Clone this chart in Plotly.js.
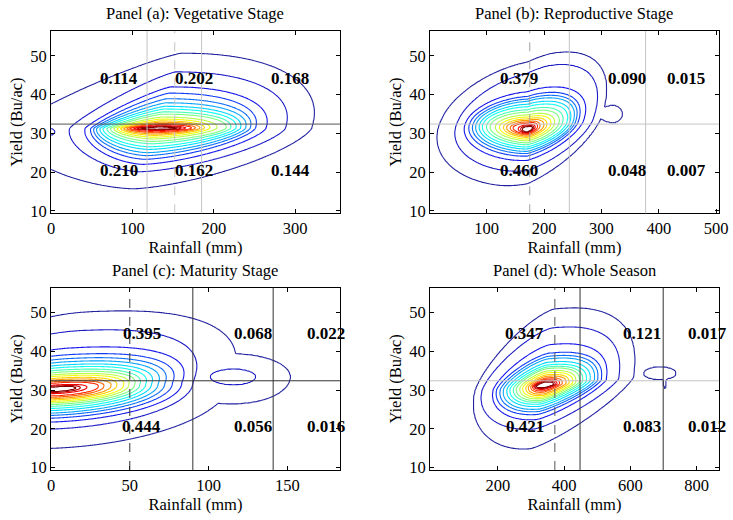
<!DOCTYPE html>
<html><head><meta charset="utf-8">
<script src="https://cdn.plot.ly/plotly-3.0.1.min.js"></script>
<style>body{margin:0;background:#fff}#chart{width:733px;height:520px}</style>
</head><body><div id="chart"></div>
<script>
// ---------- data ----------
// density levels whose contour extents were read (fraction of the peak)
const anchorLevels = [0.05,0.10,0.15,0.20,0.30,0.40,0.50,0.60,0.70,0.80,0.95];

// Panel (a) Vegetative: peak and extents of each level (left/right in mm, up/down in Bu/ac)
const aPeak  = [131, 31.3];
const aLeft  = [180,108,89,82,75,67,58,50,42,35,25];
const aRight = [189,157,133,120,108,96,84,64,52,42,26];
const aUp    = [19.4,14.6,10.7,9.1,6.6,5.0,3.7,2.4,1.6,1.0,0.4];
const aDown  = [15.6,11.2,9.3,8.0,6.3,4.8,3.4,2.3,1.5,0.9,0.3];
const aTilt  = [1.5, 1.9, 0, 0];            // x-shift per Bu up / down, y-shift per mm left / right
const aRound = [1.2, 2.2, 1.6, 1.5];         // roundness of upper-left, upper-right, lower-left, lower-right
const aSideBump = {peak:[0,30.4], levels:[0.10], left:[4], right:[5], up:[0.9], down:[0.9], top:0.105};

// Panel (b) Reproductive
const bPeak  = [171, 31.1];
const bLeft  = [148,120,106,99,88,77,64,48,36,25,9];
const bRight = [127,114,97,88,79,68,54,40,28,17,9];
const bUp    = [18.7,15.7,10.1,8.8,7.5,6.0,4.5,3.2,2.3,1.6,0.7];
const bDown  = [15.5,11.5,8.5,7.3,6.0,4.8,3.7,2.7,1.9,1.3,0.8];
const bTilt  = [2.5, 3.5, -0.02, 0.02];
const bRound = [1.7, 2.2, 2.0, 1.9];
const bSideBump = {peak:[320,35.0], levels:[0.05], left:[25], right:[17], up:[2.3], down:[2.3], top:0.056};

// Panel (c) Maturity
const cPeak  = [4, 30.3];
const cLeft  = [80,70,62,58,52,46,40,35,28,22,14];
const cRight = [110,86,79,73,64,56,49,42,34,26,12];
const cUp    = [19.5,14.8,10.4,8.7,6.9,5.5,4.3,3.3,2.4,1.6,0.6];
const cDown  = [15.3,10.3,8.5,7.5,6.2,5.0,4.0,3.2,2.5,1.8,0.7];
const cTilt  = [1.0, 0, 0.02, 0.02];
const cRound = [2.0, 2.4, 2.0, 2.0];
const cSideBump = {peak:[116,33.4], levels:[0.05,0.10], left:[60,15], right:[36,14], up:[6.0,2.1], down:[7.0,2.1], top:0.115};

// Panel (d) Whole season
const dPeak  = [341, 31.2];
const dLeft  = [210,190,155,145,124,104,85,66,49,36,27];
const dRight = [268,224,186,171,150,126,105,85,65,45,28];
const dUp    = [19.5,14.7,10.4,8.2,6.8,5.2,4.3,3.2,2.3,1.6,0.9];
const dDown  = [16,11,8.6,7.3,6.0,4.7,3.8,3.0,2.2,1.4,0.6];
const dTilt  = [1.5, 2.7, 0.008, 0.008];
const dRound = [1.4, 2.5, 2.0, 1.3];
const dIsland = {peak:[689,34.3], levels:[0.05], left:[50], right:[50], up:[1.8], down:[1.7], top:0.056};
const dNub    = {peak:[704,31.9], levels:[0.05], left:[5], right:[5], up:[1.5], down:[1.6], top:0.056};

// mean yield line and rainfall split lines
const yieldMean = 32.4;
const aDashed = [152], aSolid = [118, 185];
const bDashed = [175], bSolid = [244, 377];
const cDashed = [50],  cSolid = [90, 141];
const dDashed = [372], dSolid = [448, 699];

// probabilities in each cell (top row, bottom row)
const aTop = ['0.114','0.202','0.168'], aBot = ['0.210','0.162','0.144'];
const bTop = ['0.379','0.090','0.015'], bBot = ['0.460','0.048','0.007'];
const cTop = ['0.395','0.068','0.022'], cBot = ['0.444','0.056','0.016'];
const dTop = ['0.347','0.121','0.017'], dBot = ['0.421','0.083','0.012'];

const titles = ['Panel (a): Vegetative Stage','Panel (b): Reproductive Stage','Panel (c): Maturity Stage','Panel (d): Whole Season'];

// ---------- build density tables ----------
function comp(peak, left, right, up, down, tilt, round){
  return {peak, levels:anchorLevels, left, right, up, down, top:1.0,
          mU:tilt[0], mD:tilt[1], kL:tilt[2], kR:tilt[3], p:round};
}
function bump(b){ return Object.assign({mU:0, mD:0, kL:0, kR:0, p:[2,2,2,2]}, b); }
function compZ(c, x, y){
  const dx = x - c.peak[0], dy = y - c.peak[1];
  const v = dy - (dx > 0 ? c.kR : c.kL)*dx;
  const u = dx - (v > 0 ? c.mU : c.mD)*v;
  const p = v > 0 ? (u < 0 ? c.p[0] : c.p[1]) : (u < 0 ? c.p[2] : c.p[3]);
  const n = c.levels.length, r = [];
  for (let i = 0; i < n; i++){
    const nx = Math.abs(u/(u < 0 ? c.left[i] : c.right[i]));
    const ny = Math.abs(v/(v > 0 ? c.up[i] : c.down[i]));
    r.push(Math.pow(Math.pow(nx, p) + Math.pow(ny, p), 1/p));
  }
  if (r[0] > 1) return c.levels[0]/(r[0]*r[0]);
  let i = 0; while (i + 1 < n && r[i+1] <= 1) i++;
  if (i === n - 1) return c.levels[i] + (c.top - c.levels[i])*(1 - r[i]);
  return c.levels[i] + (c.levels[i+1] - c.levels[i])*(1 - r[i])/(r[i+1] - r[i]);
}
function grid(a, b, n){ const g = []; for (let i = 0; i < n; i++) g.push(a + (b - a)*i/(n - 1)); return g; }
function table(xr, yr, comps){
  const xs = grid(xr[0], xr[1], 240), ys = grid(yr[0], yr[1], 180);
  const z = ys.map(y => xs.map(x => Math.max(...comps.map(c => compZ(c, x, y)))));
  return {xs, ys, z};
}

const yRange = [9.35, 56.45];
const panels = [
  {xr:[0,355], ticks:[0,100,200,300], comps:[comp(aPeak,aLeft,aRight,aUp,aDown,aTilt,aRound), bump(aSideBump)],
   dashed:aDashed, solid:aSolid, top:aTop, bot:aBot, lx:[83,175.5,294], ly:[44.3,20.3],
   hcol:'#555555', vcol:'#c4c4c4', dcol:'#c4c4c4', dom:[[0.0696,0.4638],[0.5898,0.9404]]},
  {xr:[1,505], ticks:[100,200,300,400,500], comps:[comp(bPeak,bLeft,bRight,bUp,bDown,bTilt,bRound), bump(bSideBump)],
   dashed:bDashed, solid:bSolid, top:bTop, bot:bBot, lx:[156.5,344.5,447.6], ly:[44.3,20.3],
   hcol:'#c4c4c4', vcol:'#c4c4c4', dcol:'#a0a0a0', dom:[[0.5866,0.9809],[0.5898,0.9404]]},
  {xr:[0,183.4], ticks:[0,50,100,150], comps:[comp(cPeak,cLeft,cRight,cUp,cDown,cTilt,cRound), bump(cSideBump)],
   dashed:cDashed, solid:cSolid, top:cTop, bot:cBot, lx:[57.5,128.4,174.3], ly:[44.5,20.6],
   hcol:'#333333', vcol:'#333333', dcol:'#333333', dom:[[0.0696,0.4638],[0.0962,0.4467]]},
  {xr:[-5,867.5], ticks:[200,400,600,800], comps:[comp(dPeak,dLeft,dRight,dUp,dDown,dTilt,dRound), bump(dIsland), bump(dNub)],
   dashed:dDashed, solid:dSolid, top:dTop, bot:dBot, lx:[281.5,634,832], ly:[44.5,20.6],
   hcol:'#c4c4c4', vcol:'#333333', dcol:'#555555', dom:[[0.5866,0.9809],[0.0962,0.4467]]}
];

const jet = [[0,'rgb(35,35,160)'],[0.125,'rgb(20,20,245)'],[0.375,'rgb(0,255,255)'],
             [0.625,'rgb(255,255,0)'],[0.875,'rgb(255,0,0)'],[1,'rgb(128,0,0)']];
const font = 'Liberation Serif, Times New Roman, serif';

const traces = [], shapes = [], annotations = [];
const layout = {width:733, height:520, margin:{l:0,r:0,t:0,b:0}, showlegend:false,
  paper_bgcolor:'#fff', plot_bgcolor:'#fff', font:{family:font, size:16.5, color:'#000'}};

panels.forEach((p, i) => {
  const n = i === 0 ? '' : String(i + 1);
  const xa = 'x' + n, ya = 'y' + n;
  const t = table(p.xr, yRange, p.comps);
  traces.push({type:'contour', x:t.xs, y:t.ys, z:t.z, xaxis:xa, yaxis:ya,
    autocontour:false, contours:{coloring:'lines', start:0.05, end:0.95, size:0.05, showlabels:false},
    colorscale:jet, showscale:false, line:{width:1.1, smoothing:0.6}, hoverinfo:'skip'});
  const axCommon = {showline:true, linecolor:'#000', linewidth:1, mirror:'ticks', ticks:'inside', ticklen:4,
    tickcolor:'#000', showgrid:false, zeroline:false, tickfont:{family:font, size:16.5, color:'#000'}};
  layout['xaxis' + n] = Object.assign({}, axCommon, {domain:p.dom[0], anchor:ya, range:p.xr, tickvals:p.ticks,
    title:{text:'Rainfall (mm)', font:{family:font, size:16.5}, standoff:4}});
  layout['yaxis' + n] = Object.assign({}, axCommon, {domain:p.dom[1], anchor:xa, range:yRange, tickvals:[10,20,30,40,50],
    title:{text:'Yield (Bu/ac)', font:{family:font, size:16.5}, standoff:3}});
  shapes.push({type:'line', xref:xa + ' domain', yref:ya, x0:0, x1:1, y0:yieldMean, y1:yieldMean,
    line:{color:p.hcol, width:1}, layer:'above'});
  p.solid.forEach(v => shapes.push({type:'line', xref:xa, yref:ya + ' domain', x0:v, x1:v, y0:0, y1:1,
    line:{color:p.vcol, width:1}, layer:'above'}));
  p.dashed.forEach(v => shapes.push({type:'line', xref:xa, yref:ya + ' domain', x0:v, x1:v, y0:0, y1:1,
    line:{color:p.dcol, width:1, dash:'dash'}, layer:'above'}));
  [p.top, p.bot].forEach((row, r) => row.forEach((s, j) => annotations.push({xref:xa, yref:ya, x:p.lx[j], y:p.ly[r],
    text:s, showarrow:false, font:{family:font, size:17, weight:700, color:'#000'}})));
  annotations.push({xref:'paper', yref:'paper', x:(p.dom[0][0] + p.dom[0][1])/2, y:p.dom[1][1] + 0.033,
    xanchor:'center', yanchor:'middle', text:titles[i], showarrow:false, font:{family:font, size:16.5, color:'#000'}});
});
layout.shapes = shapes;
layout.annotations = annotations;
Plotly.newPlot('chart', traces, layout, {displayModeBar:false, staticPlot:true});
</script>
</body></html>
